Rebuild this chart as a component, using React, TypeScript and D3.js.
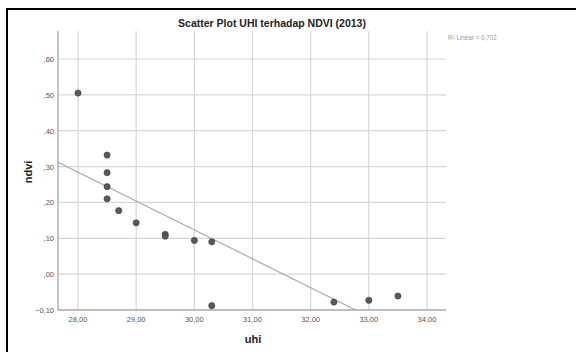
import * as d3 from "d3";
import { useEffect } from "react";

// uhi (x) and ndvi (y)
const uhi = [28.0, 28.5, 28.5, 28.5, 28.5, 28.7, 29.0, 29.5, 29.5, 30.0, 30.3, 30.3, 32.4, 33.0, 33.5];
const ndvi = [0.505, 0.332, 0.283, 0.244, 0.21, 0.177, 0.143, 0.111, 0.106, 0.094, 0.09, -0.088, -0.078, -0.073, -0.061];

const xTicks = [28, 29, 30, 31, 32, 33, 34];
const yTicks = [-0.1, 0, 0.1, 0.2, 0.3, 0.4, 0.5, 0.6];

const title = "Scatter Plot UHI terhadap NDVI (2013)";
const fitLabel = "R² Linear = 0,702";

export default function App() {
  useEffect(() => {
    document.body.style.margin = "0";
    d3.select("#chart svg").remove();

    const W = 576, H = 352;
    const left = 58, right = 446, top = 31, bottom = 310;

    const svg = d3.select("#chart")
      .append("svg")
      .attr("width", W)
      .attr("height", H)
      .style("display", "block")
      .style("font-family", "'Liberation Sans', Arial, sans-serif");

    // frame edges (top and left only)
    svg.append("rect").attr("x", 6).attr("y", 8).attr("width", W - 6).attr("height", 2).attr("fill", "#000");
    svg.append("rect").attr("x", 6).attr("y", 8).attr("width", 2).attr("height", H - 8).attr("fill", "#000");

    const x = d3.scaleLinear().domain([28, 34]).range([78, 427]);
    const y = d3.scaleLinear().domain([-0.1, 0.6]).range([bottom, 59]);

    const comma = (v: number) => d3.format(".2f")(v).replace(".", ",");
    const yFmt = (v: number) => comma(v).replace(/^(-?)0,/, "$1,");

    // grid
    svg.append("g").selectAll("line")
      .data(xTicks)
      .join("line")
      .attr("x1", d => x(d)).attr("x2", d => x(d))
      .attr("y1", top).attr("y2", bottom)
      .attr("stroke", "#d6d6d6").attr("stroke-width", 1.2);
    svg.append("g").selectAll("line")
      .data(yTicks.filter(d => d > -0.1))
      .join("line")
      .attr("x1", left).attr("x2", right)
      .attr("y1", d => y(d)).attr("y2", d => y(d))
      .attr("stroke", "#d6d6d6").attr("stroke-width", 1.2);

    // axes lines
    svg.append("line").attr("x1", left).attr("x2", left).attr("y1", top).attr("y2", bottom + 0.5)
      .attr("stroke", "#a8a8a8").attr("stroke-width", 1.3);
    svg.append("line").attr("x1", left).attr("x2", right).attr("y1", bottom).attr("y2", bottom)
      .attr("stroke", "#a8a8a8").attr("stroke-width", 1.3);

    // tick labels
    svg.append("g").selectAll("text")
      .data(yTicks)
      .join("text")
      .attr("x", 54).attr("y", d => y(d) + 3)
      .attr("text-anchor", "end")
      .attr("font-size", 7.5).attr("fill", "#555")
      .text(d => yFmt(d));
    svg.append("g").selectAll("text")
      .data(xTicks)
      .join("text")
      .attr("x", d => x(d)).attr("y", 322)
      .attr("text-anchor", "middle")
      .attr("font-size", 7.5).attr("fill", "#555")
      .text(d => comma(d));

    // linear fit
    const mx = d3.mean(uhi)!, my = d3.mean(ndvi)!;
    const sxy = d3.sum(uhi, (v, i) => (v - mx) * (ndvi[i] - my));
    const sxx = d3.sum(uhi, v => (v - mx) ** 2);
    const slope = sxy / sxx, icpt = my - slope * mx;
    const x0 = x.invert(left);
    const x1 = Math.min(x.invert(right), (-0.1 - icpt) / slope);
    svg.append("line")
      .attr("x1", x(x0)).attr("y1", y(icpt + slope * x0))
      .attr("x2", x(x1)).attr("y2", y(icpt + slope * x1))
      .attr("stroke", "#a6a6a6").attr("stroke-width", 1.1);

    // points
    svg.append("g").selectAll("circle")
      .data(uhi)
      .join("circle")
      .attr("cx", d => x(d))
      .attr("cy", (d, i) => y(ndvi[i]))
      .attr("r", 3.1)
      .attr("fill", "#5a5a5a")
      .attr("stroke", "#3a3a3a").attr("stroke-width", 0.6);

    // texts
    svg.append("text").attr("x", 272).attr("y", 27).attr("text-anchor", "middle")
      .attr("font-size", 10.5).attr("font-weight", "bold").attr("fill", "#222").text(title);
    svg.append("text").attr("x", 448).attr("y", 40)
      .attr("font-size", 6.3).attr("fill", "#9a9a9a").text(fitLabel);
    svg.append("text").attr("x", 253).attr("y", 343).attr("text-anchor", "middle")
      .attr("font-size", 11).attr("font-weight", "bold").attr("fill", "#222").text("uhi");
    svg.append("text").attr("transform", "translate(32,172) rotate(-90)").attr("text-anchor", "middle")
      .attr("font-size", 11).attr("font-weight", "bold").attr("fill", "#222").text("ndvi");
  }, []);

  return <div id="chart"></div>;
}
